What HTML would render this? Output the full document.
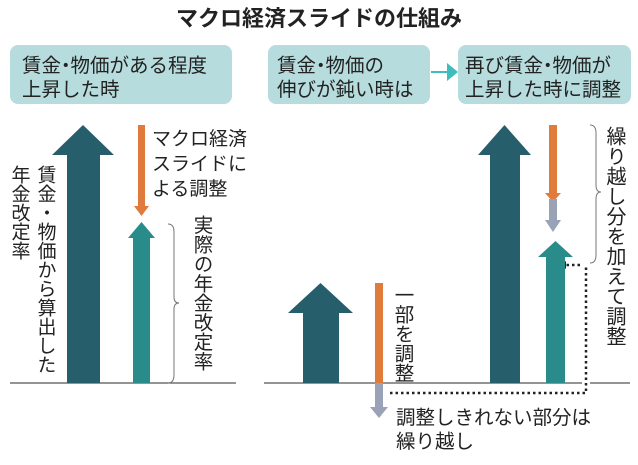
<!DOCTYPE html>
<html><head><meta charset="utf-8"><style>
body{margin:0;background:#fff}
svg text{font-family:"Liberation Sans","Noto Sans CJK JP",sans-serif;fill:#222}
</style></head><body>
<svg width="638" height="460" viewBox="0 0 638 460" xmlns="http://www.w3.org/2000/svg">
<text x="319" y="26" font-size="22" font-weight="bold" text-anchor="middle">マクロ経済スライドの仕組み</text>
<rect x="10" y="45" width="222" height="59" rx="8" fill="#b7dcdd"/>
<rect x="268" y="45" width="162" height="59" rx="8" fill="#b7dcdd"/>
<rect x="458" y="45" width="173" height="59" rx="8" fill="#b7dcdd"/>
<text font-size="19.5"><tspan x="22" y="72">賃金</tspan><tspan dx="-5">・</tspan><tspan dx="-5">物価がある程度</tspan><tspan x="22" y="96">上昇した時</tspan></text>
<text font-size="19.5"><tspan x="277" y="72">賃金</tspan><tspan dx="-5">・</tspan><tspan dx="-5">物価の</tspan><tspan x="277" y="96">伸びが鈍い時は</tspan></text>
<text font-size="19.5"><tspan x="465" y="72">再び賃金</tspan><tspan dx="-5">・</tspan><tspan dx="-5">物価が</tspan><tspan x="465" y="96">上昇した時に調整</tspan></text>
<path d="M431 71h16v-8l11 9-11 9v-8h-16z" fill="#3fbdbc"/>
<line x1="10" y1="383" x2="236" y2="383" stroke="#555" stroke-width="1.2"/>
<line x1="264" y1="383" x2="582" y2="383" stroke="#555" stroke-width="1.2"/>
<line x1="590" y1="383" x2="630" y2="383" stroke="#555" stroke-width="1.2"/>
<path d="M67 383V155H52L83 125 114 155H100V383z" fill="#265e6c"/>
<rect x="138" y="125" width="7" height="82" fill="#e07b3c"/>
<path d="M134 206h15l-7.5 10z" fill="#e07b3c"/>
<path d="M133 383V238h-5l13.5-16 13.5 16h-5V383z" fill="#2a8b8b"/>
<path d="M168 224q6 0 6 8v65q0 6 5 6q-5 0-5 6v66q0 8-6 8" fill="none" stroke="#777" stroke-width="1"/>
<text font-size="19"><tspan x="152" y="145">マクロ経済</tspan><tspan x="152" y="170">スライドに</tspan><tspan x="152" y="195">よる調整</tspan></text>
<text font-size="19.5" style="writing-mode:vertical-rl" x="201" y="215">実際の年金改定率</text>
<text font-size="19" style="writing-mode:vertical-rl" x="45" y="165">賃金・物価から算出した</text>
<text font-size="19" style="writing-mode:vertical-rl" x="19" y="165">年金改定率</text>
<path d="M303 383V313H288L320.5 283 353 313H339V383z" fill="#265e6c"/>
<rect x="375" y="283" width="8" height="100" fill="#e07b3c"/>
<rect x="375" y="383" width="8" height="26" fill="#9aa2b8"/>
<path d="M370 407h18l-9 11z" fill="#9aa2b8"/>
<text font-size="19.5" style="writing-mode:vertical-rl" x="402" y="285">一部を調整</text>
<path d="M390 393H586V265" fill="none" stroke="#222" stroke-width="2.5" stroke-dasharray="2.5 3"/>
<path d="M580 265H566" fill="none" stroke="#222" stroke-width="2.5" stroke-dasharray="2.5 3"/>
<path d="M566 261v8l-6-4z" fill="#222"/>
<text font-size="19.5"><tspan x="396" y="424">調整しきれない部分は</tspan><tspan x="396" y="448">繰り越し</tspan></text>
<path d="M490 383V155H478L504.5 125 531 155H520V383z" fill="#265e6c"/>
<rect x="549" y="125" width="8" height="70" fill="#e07b3c"/>
<path d="M545 193h16l-8 9z" fill="#e07b3c"/>
<rect x="549" y="199" width="8" height="22" fill="#9aa2b8"/>
<path d="M545 220h16l-8 12z" fill="#9aa2b8"/>
<path d="M546 383V257h-8l17.5-16 17.5 16h-8V383z" fill="#2a8b8b"/>
<path d="M590 125q6 0 6 8v52q0 7 5 7q-5 0-5 7v56q0 8-6 8" fill="none" stroke="#777" stroke-width="1"/>
<text font-size="20" style="writing-mode:vertical-rl" x="614" y="126">繰り越し分を加えて調整</text>
</svg>
</body></html>
